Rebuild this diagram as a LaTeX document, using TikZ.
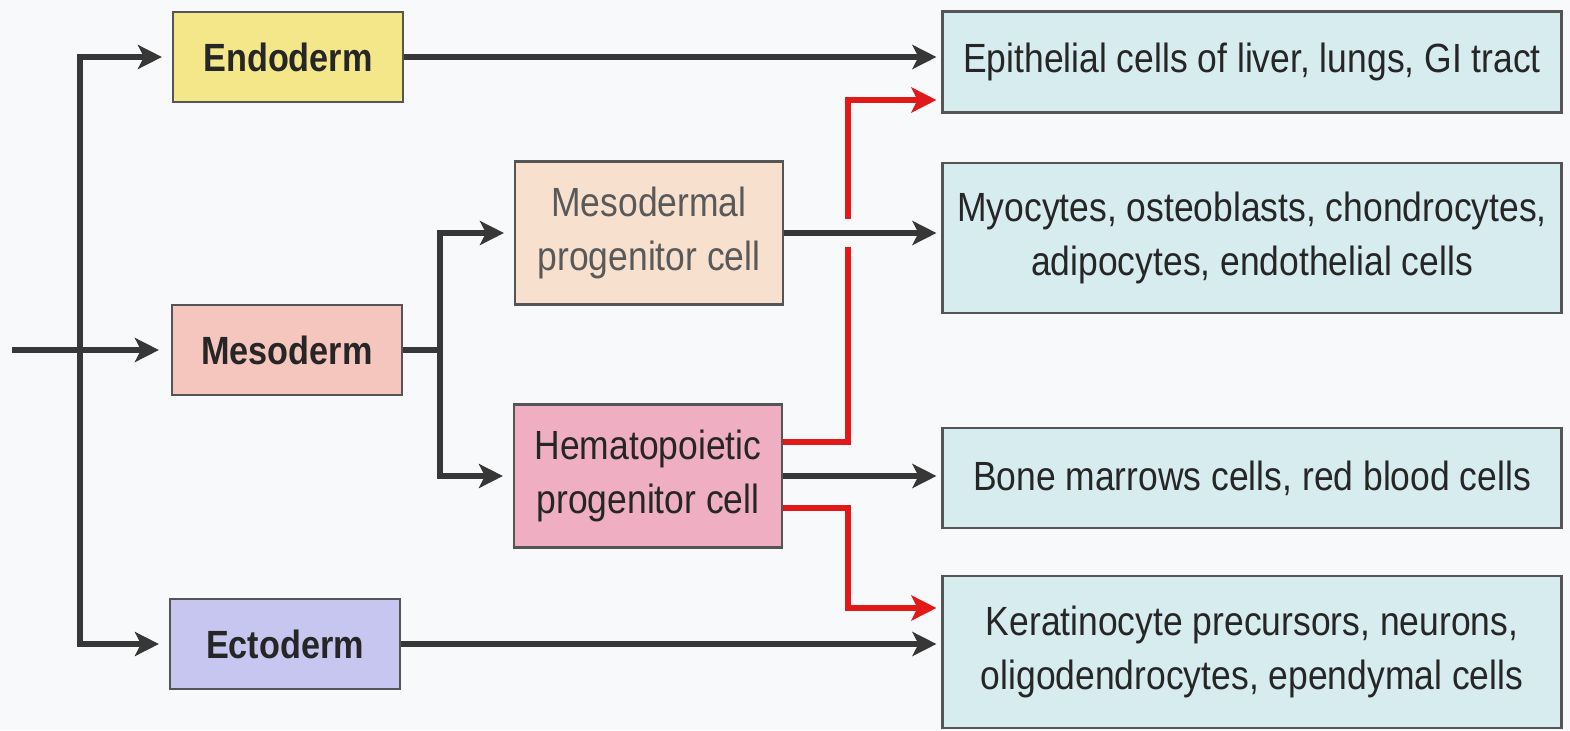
\documentclass[tikz,border=0pt]{standalone}
\usepackage{fontspec}
\setmainfont[FakeStretch=0.87]{Liberation Sans}
\usetikzlibrary{arrows.meta}

\definecolor{bgcol}{RGB}{248,249,250}
\definecolor{endocol}{RGB}{243,231,137}
\definecolor{mesocol}{RGB}{244,198,190}
\definecolor{ectocol}{RGB}{198,198,240}
\definecolor{mprogcol}{RGB}{248,224,207}
\definecolor{hprogcol}{RGB}{240,174,194}
\definecolor{fatecol}{RGB}{215,236,238}
\definecolor{edgecol}{RGB}{85,85,85}
\definecolor{arrcol}{RGB}{55,55,55}
\definecolor{redcol}{RGB}{225,25,25}

\begin{document}
\begin{tikzpicture}[x=0.1mm, y=-0.1mm,
    box/.style={draw=edgecol, line width=0.6pt, inner sep=0pt, align=center,
        text=black!85, font=\fontsize{11.6}{15.4}\selectfont},
    germ/.style={box, minimum width=2.3cm, minimum height=0.9cm, font=\fontsize{11.2}{15}\selectfont\bfseries},
    prog/.style={box, minimum width=2.68cm, minimum height=1.43cm},
    fate/.style={box, fill=fatecol, minimum width=6.19cm},
    arr/.style={draw=arrcol, line width=1.5pt, -{Stealth[length=0.24cm, width=0.24cm, inset=0.06cm]}},
    redarr/.style={draw=redcol, line width=1.8pt, -{Stealth[length=0.25cm, width=0.25cm, inset=0.06cm]}}]

    \fill[bgcol] (0,0) rectangle (1570,730);
    \useasboundingbox (0,0) rectangle (1570,730);

    \node[germ, fill=endocol] (endo) at (288,57) {Endoderm};
    \node[germ, fill=mesocol] (meso) at (287,350) {Mesoderm};
    \node[germ, fill=ectocol] (ecto) at (285,644) {Ectoderm};

    \node[prog, fill=mprogcol, text=black!65] (mprog) at (649,233) {Mesodermal\\progenitor cell};
    \node[prog, fill=hprogcol] (hprog) at (648,476) {Hematopoietic\\progenitor cell};

    \node[fate, minimum height=1.01cm] (epi) at (1252,62) {Epithelial cells of liver, lungs, GI tract};
    \node[fate, minimum height=1.5cm] (myo) at (1252,238) {Myocytes, osteoblasts, chondrocytes,\\adipocytes, endothelial cells};
    \node[fate, minimum height=1.0cm] (bone) at (1252,478) {Bone marrows cells, red blood cells};
    \node[fate, minimum height=1.52cm] (kera) at (1252,652) {Keratinocyte precursors, neurons,\\oligodendrocytes, ependymal cells};

    \coordinate (in) at (12,350);
    \coordinate (trunk) at (80,350);
    \coordinate (fork) at (440,350);
    \coordinate (redtop) at (848,100);
    \coordinate (redbot) at (848,608);

    \draw[arr, shorten >=0.12cm] (in) -- (meso.west);
    \draw[arr, shorten >=0.1cm] (trunk) |- (endo.west);
    \draw[arr, shorten >=0.1cm] (trunk) |- (ecto.west);

    \draw[arrcol, line width=1.5pt] (meso.east) -- (fork);
    \draw[arr, shorten >=0.1cm] (fork) |- (mprog.west);
    \draw[arr, shorten >=0.1cm] (fork) |- (hprog.west);

    \draw[redarr, shorten >=0.05cm] ([yshift=0.34cm]hprog.east) -| (redtop) -- (redtop -| epi.west);
    \draw[redarr, shorten >=0.05cm] ([yshift=-0.32cm]hprog.east) -| (redbot) -- (redbot -| kera.west);
    \draw[bgcol, line width=0.12cm] (redtop |- mprog.east) ++(0,-14) -- ++(0,28);

    \draw[arr, shorten >=0.05cm] (endo.east) -- (endo.east -| epi.west);
    \draw[arr, shorten >=0.05cm] (mprog.east) -- (mprog.east -| myo.west);
    \draw[arr, shorten >=0.05cm] (hprog.east) -- (hprog.east -| bone.west);
    \draw[arr, shorten >=0.05cm] (ecto.east) -- (ecto.east -| kera.west);
\end{tikzpicture}
\end{document}
